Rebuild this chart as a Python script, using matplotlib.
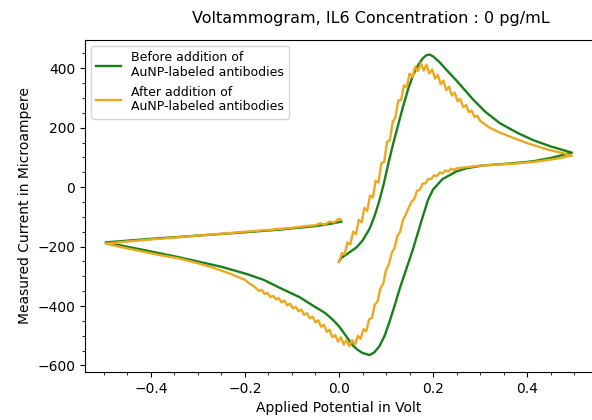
import matplotlib
matplotlib.use("Agg")
import matplotlib.pyplot as plt
from matplotlib.ticker import MultipleLocator

# potential (V) / current (uA), one sweep 0 -> +0.5 -> -0.5 -> 0
before_v = [0.000, 0.005, 0.020, 0.037, 0.050, 0.065, 0.075, 0.085, 0.095, 0.105,
            0.115, 0.125, 0.136, 0.147, 0.157, 0.168, 0.178, 0.186, 0.193, 0.200,
            0.214, 0.230, 0.250, 0.270, 0.285, 0.310, 0.342, 0.380, 0.413, 0.450,
            0.495,
            0.450, 0.413, 0.360, 0.306, 0.270, 0.250, 0.220, 0.200, 0.189, 0.175,
            0.157, 0.140, 0.129, 0.118, 0.108, 0.097, 0.086, 0.075, 0.065, 0.050,
            0.040, 0.029, 0.020, 0.010, 0.000, -0.014, -0.030, -0.056, -0.084, -0.127,
            -0.160, -0.197, -0.250, -0.340, -0.420, -0.496,
            -0.400, -0.300, -0.200, -0.127, -0.050, -0.020, 0.005]
before_i = [-250, -238, -222, -203, -180, -140, -100, -50, 10, 80,
            145, 205, 270, 330, 375, 410, 433, 444, 446, 440,
            420, 392, 358, 322, 295, 255, 215, 182, 158, 137,
            116,
            98, 87, 79, 73, 63, 53, 27, -8, -44, -115,
            -210, -290, -342, -400, -450, -500, -535, -556, -565, -558,
            -548, -532, -512, -490, -468, -445, -423, -398, -370, -338,
            -312, -292, -268, -236, -210, -186,
            -174, -163, -152, -143, -131, -124, -116]

after_v = [0.000, 0.006, 0.012, 0.018, 0.024, 0.030, 0.036, 0.042, 0.048, 0.054,
           0.060, 0.066, 0.072, 0.078, 0.084, 0.090, 0.096, 0.102, 0.108, 0.114,
           0.120, 0.126, 0.132, 0.138, 0.144, 0.150, 0.156, 0.162, 0.168, 0.174,
           0.180, 0.186, 0.192, 0.198, 0.204, 0.210, 0.216, 0.222, 0.228, 0.234,
           0.240, 0.246, 0.252, 0.258, 0.264, 0.270, 0.276, 0.282, 0.288, 0.294,
           0.300, 0.320, 0.340, 0.360, 0.380, 0.400, 0.420, 0.440, 0.460, 0.480,
           0.495,
           0.460, 0.420, 0.380, 0.340, 0.300, 0.270, 0.250, 0.244, 0.238, 0.232,
           0.226, 0.220, 0.214, 0.208, 0.202, 0.196, 0.190, 0.184, 0.178, 0.172,
           0.166, 0.160, 0.154, 0.148, 0.142, 0.136, 0.130, 0.124, 0.118, 0.112,
           0.106, 0.100, 0.094, 0.088, 0.082, 0.076, 0.070, 0.064, 0.058, 0.052,
           0.046, 0.040, 0.034, 0.028, 0.022, 0.016, 0.010, 0.004, -0.002, -0.008,
           -0.014, -0.020, -0.026, -0.032, -0.038, -0.044, -0.050, -0.056, -0.062, -0.068,
           -0.074, -0.080, -0.086, -0.092, -0.098, -0.104, -0.110, -0.116, -0.122, -0.128,
           -0.134, -0.140, -0.146, -0.152, -0.158, -0.164, -0.170, -0.180, -0.190, -0.200,
           -0.230, -0.270, -0.300, -0.340, -0.380, -0.420, -0.460, -0.496,
           -0.450, -0.400, -0.350, -0.300, -0.250, -0.200, -0.150, -0.100, -0.070, -0.050,
           -0.040, -0.030, -0.020, -0.010, 0.000, 0.004]
after_i = [-252, -222, -226, -186, -193, -150, -158, -110, -118, -70,
           -80, -28, -35, 22, 15, 80, 85, 152, 158, 218,
           235, 292, 292, 342, 336, 382, 370, 405, 390, 418,
           392, 412, 382, 396, 365, 378, 346, 358, 326, 338,
           308, 318, 289, 297, 269, 276, 252, 257, 236, 240,
           223, 200, 185, 172, 160, 148, 138, 128, 120, 113,
           106,
           95, 86, 80, 76, 72, 67, 63, 58, 62, 52,
           56, 46, 49, 37, 40, 27, 28, 13, 12, -8,
           -12, -40, -50, -70, -92, -110, -150, -165, -205, -222,
           -260, -278, -325, -340, -385, -395, -440, -445, -485, -478,
           -510, -500, -530, -515, -535, -515, -530, -505, -520, -498,
           -505, -480, -487, -463, -470, -448, -455, -436, -442, -424,
           -430, -412, -418, -402, -408, -392, -398, -382, -388, -374,
           -378, -366, -370, -356, -360, -346, -349, -335, -325, -312,
           -292, -270, -256, -240, -229, -216, -203, -190,
           -183, -176, -170, -163, -157, -150, -144, -137, -131, -128,
           -122, -126, -116, -119, -106, -110]

labels = ["Before addition of\nAuNP-labeled antibodies",
          "After addition of\nAuNP-labeled antibodies"]
title = "Voltammogram, IL6 Concentration : 0 pg/mL"

fig = plt.figure(figsize=(5.92, 4.2), dpi=100)
ax = fig.add_axes([85 / 592, 48 / 420, 508 / 592, 332 / 420])

ax.plot(before_v, before_i, color="#1a7f1a", lw=1.7, label=labels[0])
ax.plot(after_v, after_i, color="#eaa91f", lw=1.7, label=labels[1])

ax.set_xlim(-0.54, 0.54)
ax.set_ylim(-622, 495)
ax.xaxis.set_major_locator(MultipleLocator(0.2))
ax.xaxis.set_minor_locator(MultipleLocator(0.05))
ax.yaxis.set_major_locator(MultipleLocator(200))
ax.yaxis.set_minor_locator(MultipleLocator(50))

ax.set_xlabel("Applied Potential in Volt")
ax.set_ylabel("Measured Current in Microampere")
fig.text(371 / 592, 1 - 23 / 420, title, ha="center", va="baseline", fontsize=11.5)

ax.legend(loc="upper left", fontsize=9)

fig.savefig("out.png", dpi=100)
